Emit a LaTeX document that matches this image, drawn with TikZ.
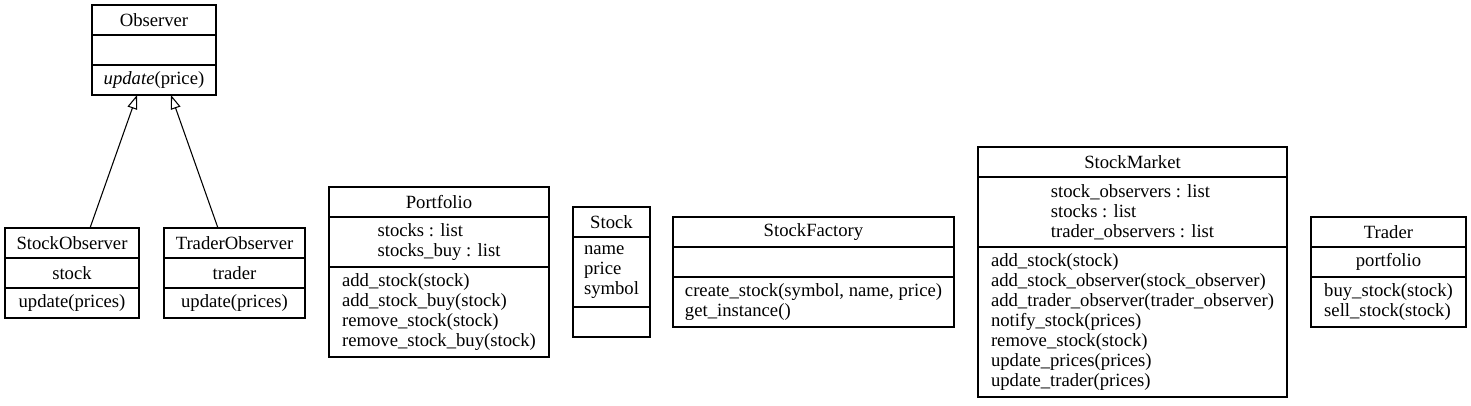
\documentclass[tikz,border=0pt]{standalone}
\usepackage{fontspec}
\setmainfont{Liberation Serif}
\usetikzlibrary{positioning,arrows.meta}

\tikzset{
  cell/.style={draw, rectangle, line width=0.8pt, outer sep=0pt, inner xsep=5pt, inner ysep=0pt,
    align=left, font=\fontsize{14}{15}\selectfont},
  boxw/.style={minimum width=#1*0.75pt},
  rows/.style={minimum height=#1*15pt+7.5pt},
  inherit/.style={-{Triangle[open,length=10.5pt,width=7.5pt]}, line width=0.8pt},
}

\begin{document}
\begin{tikzpicture}[x=0.75pt, y=-0.75pt]
\useasboundingbox (0,0) rectangle (1471,405);

% Observer
\node[cell, boxw=124, rows=1, anchor=north] (obs) at (154,5) {Observer};
\node[cell, boxw=124, rows=1, below=0pt of obs] (obs-a) {};
\node[cell, boxw=124, rows=1, below=0pt of obs-a] (obs-m) {\textit{update}(price)};

% StockObserver
\node[cell, boxw=134, rows=1, anchor=north] (sobs) at (72,228) {StockObserver};
\node[cell, boxw=134, rows=1, below=0pt of sobs] (sobs-a) {stock};
\node[cell, boxw=134, rows=1, below=0pt of sobs-a] (sobs-m) {update(prices)};

% TraderObserver
\node[cell, boxw=141, rows=1, anchor=north] (tobs) at (234.5,228) {TraderObserver};
\node[cell, boxw=141, rows=1, below=0pt of tobs] (tobs-a) {trader};
\node[cell, boxw=141, rows=1, below=0pt of tobs-a] (tobs-m) {update(prices)};

% Inheritance
\draw[inherit] ([xshift=13.5pt]sobs.north) -- ([xshift=-12.75pt]obs-m.south);
\draw[inherit] ([xshift=-12.4pt]tobs.north) -- ([xshift=12.75pt]obs-m.south);

% Portfolio
\node[cell, boxw=220, rows=1, anchor=north] (port) at (439,187) {Portfolio};
\node[cell, boxw=220, rows=2, below=0pt of port] (port-a) {stocks : list\\stocks\_buy : list};
\node[cell, boxw=220, rows=4, below=0pt of port-a] (port-m) {add\_stock(stock)\\add\_stock\_buy(stock)\\remove\_stock(stock)\\remove\_stock\_buy(stock)};

% Stock
\node[cell, boxw=77, rows=1, anchor=north] (stock) at (611.5,207) {Stock};
\node[cell, boxw=77, rows=3, below=0pt of stock] (stock-a) {name\\price\\symbol};
\node[cell, boxw=77, rows=1, below=0pt of stock-a] (stock-m) {};

% StockFactory
\node[cell, boxw=281, rows=1, anchor=north] (fact) at (813.5,217) {StockFactory};
\node[cell, boxw=281, rows=1, below=0pt of fact] (fact-a) {};
\node[cell, boxw=281, rows=2, below=0pt of fact-a] (fact-m) {create\_stock(symbol, name, price)\\get\_instance()};

% StockMarket
\node[cell, boxw=309, rows=1, anchor=north] (mkt) at (1132.5,147) {StockMarket};
\node[cell, boxw=309, rows=3, below=0pt of mkt] (mkt-a) {stock\_observers : list\\stocks : list\\trader\_observers : list};
\node[cell, boxw=309, rows=7, below=0pt of mkt-a] (mkt-m) {add\_stock(stock)\\add\_stock\_observer(stock\_observer)\\add\_trader\_observer(trader\_observer)\\notify\_stock(prices)\\remove\_stock(stock)\\update\_prices(prices)\\update\_trader(prices)};

% Trader
\node[cell, boxw=155, rows=1, anchor=north] (trad) at (1388.5,217) {Trader};
\node[cell, boxw=155, rows=1, below=0pt of trad] (trad-a) {portfolio};
\node[cell, boxw=155, rows=2, below=0pt of trad-a] (trad-m) {buy\_stock(stock)\\sell\_stock(stock)};
\end{tikzpicture}
\end{document}
